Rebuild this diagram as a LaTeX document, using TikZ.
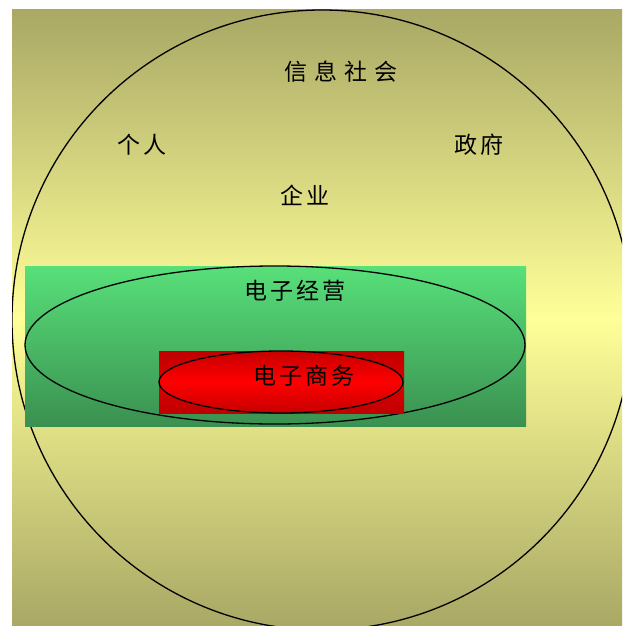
\documentclass[tikz,border=0pt]{standalone}
\usepackage{fontspec}
\usetikzlibrary{shapes.geometric}
\newfontfamily\cjk{Noto Sans CJK SC}
\newfontfamily\cjkwide[LetterSpace=31]{Noto Sans CJK SC}
\newfontfamily\cjkmid[LetterSpace=14]{Noto Sans CJK SC}
\definecolor{olivebg}{HTML}{A9A865}
\definecolor{yellowbg}{HTML}{FFFF99}
\definecolor{greentop}{HTML}{58E07A}
\definecolor{greenbot}{HTML}{3A9050}
\definecolor{darkred}{HTML}{C00000}
\definecolor{midred}{HTML}{DC0000}
\definecolor{brightred}{HTML}{FF0000}
\begin{document}
\begin{tikzpicture}[x=1pt,y=-1pt,
  lbl/.style={font=\cjkmid\fontsize{23}{23}\selectfont, text=black, inner sep=0pt},
  outline/.style={draw=black, line width=1.3pt}]
\useasboundingbox (0,0) rectangle (622,626);
\fill[white] (0,0) rectangle (622,626);
% background
\shade[top color=olivebg, bottom color=olivebg, middle color=yellowbg] (12,10) rectangle (622,626);
\begin{scope}
\clip (12,10) rectangle (622,626);
\node[outline, circle, minimum size=620pt, inner sep=0pt] (society) at (322,320) {};
\end{scope}
% green rectangle
\shade[top color=greentop, bottom color=greenbot] (25,266) rectangle (526,426);
\node[outline, ellipse, minimum width=500pt, minimum height=158pt, inner sep=0pt] (operate) at (275,345) {};
% red rectangle
\shade[top color=darkred, bottom color=darkred, middle color=midred] (159,351) rectangle (404,413);
\node[outline, ellipse, minimum width=244pt, minimum height=62pt, inner sep=0pt,
  top color=darkred!90!brightred, bottom color=darkred!90!brightred, middle color=brightred] (commerce) at (281,382) {};
% labels
\node[lbl, font=\cjkwide\fontsize{23}{23}\selectfont] (t1) at (341,72) {信息社会};
\node[lbl] (t2) at (142,145) {个人};
\node[lbl] (t3) at (479,145) {政府};
\node[lbl] (t4) at (305,195) {企业};
\node[lbl] (t5) at (295,291) {电子经营};
\node[lbl] (t6) at (304,376) {电子商务};
\end{tikzpicture}
\end{document}
